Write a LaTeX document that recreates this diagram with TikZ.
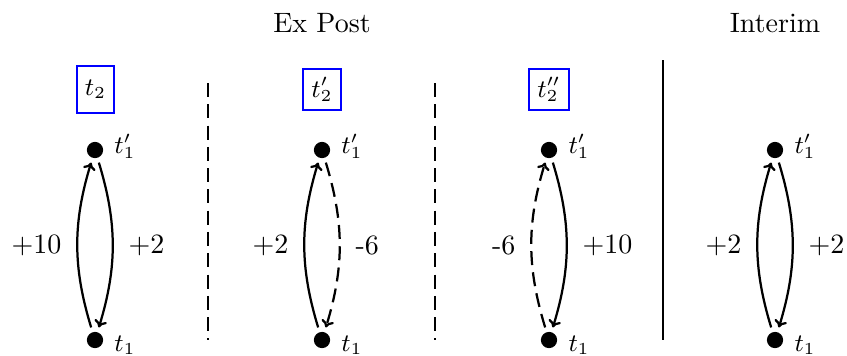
\documentclass[tikz,border=0pt]{standalone}
\usetikzlibrary{arrows.meta}
\begin{document}
\begin{tikzpicture}[x=0.3571pt,y=-0.3571pt,
  dot/.style={circle,fill=black,minimum size=5.8pt,inner sep=0pt},
  lab/.style={font=\small,inner sep=0pt},
  tbox/.style={draw=blue,line width=0.8pt,font=\small,inner sep=0pt,minimum width=13.4pt,minimum height=14.6pt},
  arr/.style={thick,-{To[length=2.6pt,width=4.6pt]},shorten >=1.6pt,shorten <=1.6pt},
  dsh/.style={dash pattern=on 5pt off 2.6pt},
  sep/.style={line width=0.75pt},
  elab/.style={midway,inner sep=0pt}]
\useasboundingbox (0,0) rectangle (847,355);
% titles
\node (ttl1) at (322,23) {Ex Post};
\node (ttl2) at (775,23) {Interim};
% separators
\coordinate (s1a) at (208,83); \coordinate (s1b) at (208,340);
\coordinate (s2a) at (435,83); \coordinate (s2b) at (435,340);
\coordinate (s3a) at (663,60); \coordinate (s3b) at (663,340);
\draw[sep,dsh] (s1a) -- (s1b);
\draw[sep,dsh] (s2a) -- (s2b);
\draw[sep] (s3a) -- (s3b);
% boxes
\node[tbox,minimum height=16.8pt] (b1) at (95.5,89.5) {$t_2$};
\node[tbox] (b2) at (322,89.5) {$t_2'$};
\node[tbox,minimum width=14.2pt] (b3) at (549,89.5) {$t_2''$};
% panel 1
\node[dot] (u1) at (95,150) {};
\node[dot] (d1) at (95,340) {};
\node[lab] (lu1) at (125,146) {$t_1'$};
\node[lab] (ld1) at (125,345) {$t_1$};
\draw[arr] (d1) to[bend left=17] node[elab,left=5.4pt] {+10} (u1);
\draw[arr] (u1) to[bend left=17] node[elab,right=5.4pt] {+2} (d1);
% panel 2
\node[dot] (u2) at (322,150) {};
\node[dot] (d2) at (322,340) {};
\node[lab] (lu2) at (352,146) {$t_1'$};
\node[lab] (ld2) at (352,345) {$t_1$};
\draw[arr] (d2) to[bend left=17] node[elab,left=5.4pt] {+2} (u2);
\draw[arr,dsh] (u2) to[bend left=17] node[elab,right=5.4pt] {-6} (d2);
% panel 3
\node[dot] (u3) at (549,150) {};
\node[dot] (d3) at (549,340) {};
\node[lab] (lu3) at (579,146) {$t_1'$};
\node[lab] (ld3) at (579,345) {$t_1$};
\draw[arr,dsh] (d3) to[bend left=17] node[elab,left=5.4pt] {-6} (u3);
\draw[arr] (u3) to[bend left=17] node[elab,right=5.4pt] {+10} (d3);
% panel 4
\node[dot] (u4) at (775,150) {};
\node[dot] (d4) at (775,340) {};
\node[lab] (lu4) at (805,146) {$t_1'$};
\node[lab] (ld4) at (805,345) {$t_1$};
\draw[arr] (d4) to[bend left=17] node[elab,left=5.4pt] {+2} (u4);
\draw[arr] (u4) to[bend left=17] node[elab,right=5.4pt] {+2} (d4);
\end{tikzpicture}
\end{document}
